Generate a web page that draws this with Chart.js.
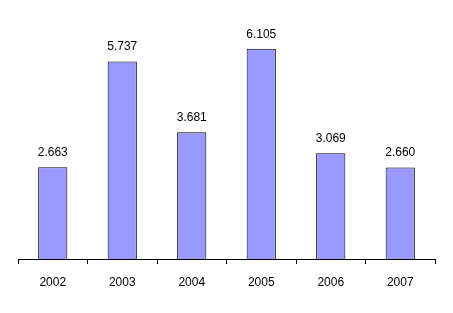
<!DOCTYPE html>
<html>
<head>
<meta charset="utf-8">
<script src="https://cdn.jsdelivr.net/npm/chart.js@4/dist/chart.umd.min.js"></script>
<style>
  html, body { margin: 0; padding: 0; background: #fff; }
</style>
</head>
<body>
<canvas id="chart" width="453" height="313"></canvas>
<script>
const years = ['2002', '2003', '2004', '2005', '2006', '2007'];
const values = [2.663, 5.737, 3.681, 6.105, 3.069, 2.660];
const valueLabels = ['2.663', '5.737', '3.681', '6.105', '3.069', '2.660'];

const labelFont = '"Liberation Sans", Arial, sans-serif';

// Draw the value text above each bar
const barLabels = {
  id: 'barLabels',
  afterDatasetsDraw(chart) {
    const ctx = chart.ctx;
    const meta = chart.getDatasetMeta(0);
    ctx.save();
    ctx.font = '12px ' + labelFont;
    ctx.fillStyle = '#000';
    ctx.textAlign = 'center';
    ctx.textBaseline = 'alphabetic';
    meta.data.forEach((bar, i) => {
      ctx.fillText(valueLabels[i], bar.x, bar.y - 11);
    });
    ctx.restore();
  }
};

new Chart(document.getElementById('chart'), {
  type: 'bar',
  data: {
    labels: years,
    datasets: [{
      data: values,
      backgroundColor: '#9999FF',
      borderColor: '#000',
      borderWidth: 1,
      barPercentage: 0.42,
      categoryPercentage: 1
    }]
  },
  options: {
    responsive: false,
    animation: false,
    layout: { padding: { left: 18, right: 18, top: 18, bottom: 20 } },
    plugins: { legend: { display: false }, tooltip: { enabled: false } },
    scales: {
      y: { display: false, min: 0, max: 7 },
      x: {
        grid: { drawOnChartArea: false, drawTicks: true, tickLength: 5, color: '#000', offset: true },
        border: { display: true, color: '#000', width: 1 },
        ticks: { color: '#000', padding: 11, maxRotation: 0, font: { family: labelFont, size: 12 } },
        afterFit(scale) { scale.height = 34; }
      }
    }
  },
  plugins: [barLabels]
});
</script>
</body>
</html>
